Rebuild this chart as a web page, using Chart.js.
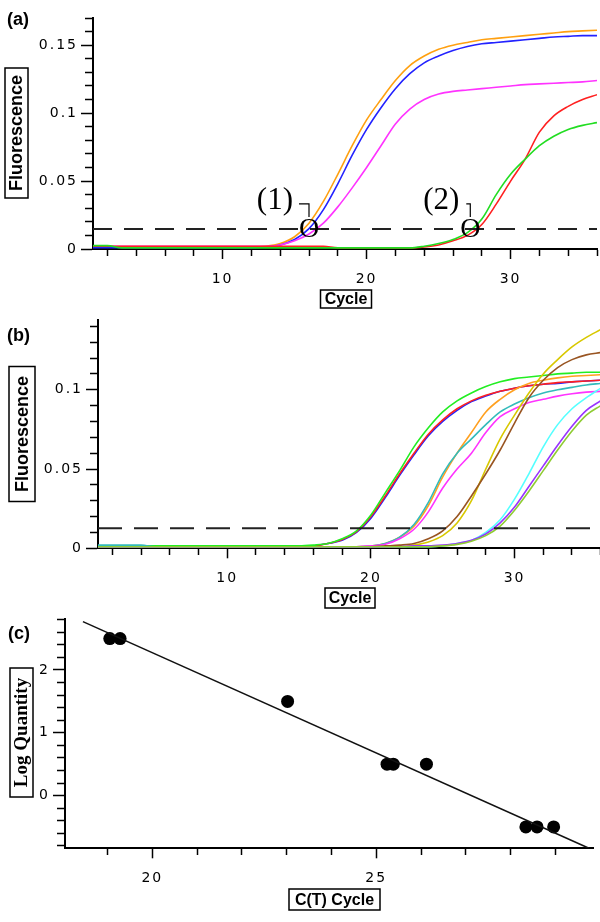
<!DOCTYPE html>
<html>
<head>
<meta charset="utf-8">
<script src="https://cdn.jsdelivr.net/npm/chart.js@4.4.1/dist/chart.umd.min.js"></script>
<style>
  html, body { margin: 0; padding: 0; background: #fff; }
  #wrap { position: relative; width: 600px; height: 922px; }
  canvas { position: absolute; left: 0; }
</style>
</head>
<body>
<div id="wrap">
  <canvas id="chartA" width="600" height="310" style="top:0"></canvas>
  <canvas id="chartB" width="600" height="302" style="top:310px"></canvas>
  <canvas id="chartC" width="600" height="310" style="top:612px"></canvas>
</div>
<script>
// ---- donnees ----
const cycles = [1, 2, 3, 4, 5, 6, 7, 8, 9, 10, 11, 12, 13, 14, 15, 16, 17, 18,
  19, 20, 21, 22, 23, 24, 25, 26, 27, 28, 29, 30, 31, 32, 33, 34, 35, 36];

// (a) courbes d'amplification
const aOrange = [0.0015, 0.0015, 0.0015, 0.0015, 0.0015, 0.0015, 0.0015, 0.0015, 0.0015, 0.0015, 0.0015, 0.0015,
  0.002, 0.004, 0.009, 0.019, 0.035, 0.055, 0.076, 0.095, 0.110, 0.124, 0.135, 0.142,
  0.147, 0.150, 0.152, 0.154, 0.155, 0.156, 0.157, 0.158, 0.159, 0.160, 0.1605, 0.161];
const aBlue = [0.001, 0.001, 0.001, 0.001, 0.001, 0.001, 0.001, 0.001, 0.001, 0.001, 0.001, 0.001,
  0.0015, 0.003, 0.007, 0.015, 0.029, 0.048, 0.069, 0.088, 0.104, 0.118, 0.129, 0.137,
  0.142, 0.146, 0.149, 0.151, 0.152, 0.153, 0.154, 0.155, 0.156, 0.1565, 0.157, 0.157];
const aMagenta = [0.002, 0.002, 0.002, 0.002, 0.002, 0.002, 0.002, 0.002, 0.002, 0.002, 0.002, 0.002,
  0.002, 0.003, 0.006, 0.011, 0.019, 0.031, 0.045, 0.060, 0.076, 0.092, 0.103, 0.110,
  0.114, 0.116, 0.117, 0.118, 0.119, 0.120, 0.121, 0.1215, 0.122, 0.1225, 0.123, 0.124];
const aRed = [0.002, 0.002, 0.002, 0.002, 0.002, 0.002, 0.002, 0.002, 0.002, 0.002, 0.002, 0.002,
  0.002, 0.002, 0.002, 0.002, 0.002, 0.0008, 0.0008, 0.0008, 0.0008, 0.0008, 0.0008, 0.0015,
  0.003, 0.006, 0.010, 0.018, 0.033, 0.050, 0.066, 0.086, 0.098, 0.105, 0.110, 0.1135];
const aGreen = [0.0025, 0.0025, 0.0008, 0.0008, 0.0008, 0.0008, 0.0008, 0.0008, 0.0008, 0.0008, 0.0008, 0.0008,
  0.0008, 0.0008, 0.0008, 0.0008, 0.0008, 0.0008, 0.0008, 0.0008, 0.0008, 0.0008, 0.0008, 0.002,
  0.004, 0.007, 0.012, 0.022, 0.040, 0.055, 0.066, 0.076, 0.083, 0.088, 0.091, 0.093];
const thresholdA = 0.0148;
const crossingCycles = [16, 27.2];
const crossingLabels = ["(1)", "(2)"];

// (b) dilutions
const bGreen = [0.0015, 0.0015, 0.0015, 0.0015, 0.0015, 0.0015, 0.0015, 0.0015, 0.0015, 0.0015, 0.0015, 0.0015,
  0.0015, 0.0015, 0.0015, 0.002, 0.003, 0.006, 0.011, 0.021, 0.035, 0.049, 0.064, 0.076,
  0.086, 0.093, 0.098, 0.102, 0.105, 0.107, 0.108, 0.109, 0.110, 0.1105, 0.111, 0.111];
const bRed = [0.001, 0.001, 0.001, 0.001, 0.001, 0.001, 0.001, 0.001, 0.001, 0.001, 0.001, 0.001,
  0.001, 0.001, 0.001, 0.0015, 0.003, 0.0055, 0.0105, 0.020, 0.033, 0.047, 0.060, 0.072,
  0.081, 0.088, 0.093, 0.0965, 0.099, 0.101, 0.1025, 0.1035, 0.1045, 0.105, 0.1055, 0.106];
const bBlue = [0.001, 0.001, 0.001, 0.001, 0.001, 0.001, 0.001, 0.001, 0.001, 0.001, 0.001, 0.001,
  0.001, 0.001, 0.001, 0.0015, 0.003, 0.005, 0.010, 0.019, 0.032, 0.046, 0.059, 0.071,
  0.080, 0.087, 0.0925, 0.096, 0.099, 0.101, 0.1025, 0.1035, 0.104, 0.105, 0.1055, 0.106];
const bOrange = [0.001, 0.001, 0.001, 0.001, 0.001, 0.001, 0.001, 0.001, 0.001, 0.001, 0.001, 0.001,
  0.001, 0.001, 0.001, 0.001, 0.001, 0.001, 0.001, 0.0015, 0.003, 0.007, 0.014, 0.027,
  0.045, 0.060, 0.073, 0.086, 0.094, 0.100, 0.104, 0.106, 0.1075, 0.1085, 0.109, 0.1095];
const bTeal = [0.002, 0.002, 0.002, 0.002, 0.001, 0.001, 0.001, 0.001, 0.001, 0.001, 0.001, 0.001,
  0.001, 0.001, 0.001, 0.001, 0.001, 0.001, 0.001, 0.0015, 0.003, 0.007, 0.015, 0.029,
  0.047, 0.060, 0.069, 0.078, 0.086, 0.091, 0.095, 0.098, 0.100, 0.1015, 0.103, 0.104];
const bMagenta = [0.001, 0.001, 0.001, 0.001, 0.001, 0.001, 0.001, 0.001, 0.001, 0.001, 0.001, 0.001,
  0.001, 0.001, 0.001, 0.001, 0.001, 0.001, 0.001, 0.0015, 0.0025, 0.006, 0.012, 0.023,
  0.038, 0.050, 0.060, 0.073, 0.083, 0.088, 0.092, 0.094, 0.096, 0.0975, 0.0985, 0.099];
const bYellow = [0.001, 0.001, 0.001, 0.001, 0.001, 0.001, 0.001, 0.001, 0.001, 0.001, 0.001, 0.001,
  0.001, 0.001, 0.001, 0.001, 0.001, 0.001, 0.001, 0.001, 0.001, 0.001, 0.002, 0.004,
  0.008, 0.016, 0.030, 0.050, 0.069, 0.084, 0.098, 0.110, 0.119, 0.127, 0.133, 0.138];
const bBrown = [0.001, 0.001, 0.001, 0.001, 0.001, 0.001, 0.001, 0.001, 0.001, 0.001, 0.001, 0.001,
  0.001, 0.001, 0.001, 0.001, 0.001, 0.001, 0.001, 0.001, 0.0015, 0.002, 0.003, 0.006,
  0.011, 0.020, 0.033, 0.047, 0.062, 0.079, 0.095, 0.106, 0.114, 0.119, 0.122, 0.1235];
const bCyan = [0.001, 0.001, 0.001, 0.001, 0.001, 0.001, 0.001, 0.001, 0.001, 0.001, 0.001, 0.001,
  0.001, 0.001, 0.001, 0.001, 0.001, 0.001, 0.001, 0.001, 0.001, 0.001, 0.001, 0.001,
  0.0015, 0.003, 0.005, 0.010, 0.018, 0.031, 0.047, 0.064, 0.078, 0.088, 0.095, 0.101];
const bPurple = [0.001, 0.001, 0.001, 0.001, 0.001, 0.001, 0.001, 0.001, 0.001, 0.001, 0.001, 0.001,
  0.001, 0.001, 0.001, 0.001, 0.001, 0.001, 0.001, 0.001, 0.001, 0.001, 0.0015, 0.0015,
  0.002, 0.003, 0.005, 0.009, 0.016, 0.026, 0.039, 0.052, 0.065, 0.077, 0.087, 0.093];
const bYellowGreen = [0.001, 0.001, 0.001, 0.001, 0.001, 0.001, 0.001, 0.001, 0.001, 0.001, 0.001, 0.001,
  0.001, 0.001, 0.001, 0.001, 0.001, 0.001, 0.001, 0.001, 0.001, 0.001, 0.001, 0.001,
  0.0015, 0.0025, 0.0045, 0.008, 0.014, 0.024, 0.036, 0.049, 0.062, 0.074, 0.084, 0.090];
const thresholdB = 0.0126;

// (c) courbe standard
const ctCycle = [19.05, 19.28, 23.02, 25.24, 25.38, 26.12, 28.34, 28.59, 28.96];
const logQuantity = [2.5, 2.5, 1.5, 0.5, 0.5, 0.5, -0.5, -0.5, -0.5];
const fitX = [18.45, 29.75];
const fitY = [2.77, -0.84];

// graduations
const xTicksCurve = [2, 4, 6, 8, 10, 12, 14, 16, 18, 20, 22, 24, 26, 28, 30, 32, 34, 36];
const xLabelsCurve = [10, 20, 30];
const yTicksA = [0, 0.01, 0.02, 0.03, 0.04, 0.05, 0.06, 0.07, 0.08, 0.09, 0.1, 0.11, 0.12, 0.13, 0.14, 0.15, 0.16, 0.17];
const yLabelsA = [0, 0.05, 0.1, 0.15];
const yTicksB = [0, 0.01, 0.02, 0.03, 0.04, 0.05, 0.06, 0.07, 0.08, 0.09, 0.1, 0.11, 0.12, 0.13, 0.14];
const yLabelsB = [0, 0.05, 0.1];
const xTicksC = [19, 20, 21, 22, 23, 24, 25, 26, 27, 28, 29];
const xLabelsC = [20, 25];
const yTicksC = [-0.8, -0.6, -0.4, -0.2, 0, 0.2, 0.4, 0.6, 0.8, 1, 1.2, 1.4, 1.6, 1.8, 2, 2.2, 2.4, 2.6, 2.8];
const yLabelsC = [0, 1, 2];

// ---- outils ----
const tickFont = { family: "'DejaVu Sans', sans-serif", size: 14 };
const isIn = (list, v) => list.some(l => Math.abs(l - v) < 1e-9);

function yAxis(min, max, tickList, labelList, width) {
  return {
    type: "linear", position: "left", min: min, max: max,
    afterBuildTicks: s => { s.ticks = tickList.map(v => ({ value: v })); },
    afterFit: s => { s.width = width; s.paddingTop = 0; s.paddingBottom = 0; },
    border: { color: "#000", width: 2 },
    grid: {
      drawOnChartArea: false, color: "#000", tickLength: 12, tickWidth: 1.5,
      tickBorderDash: c => (c.tick && !isIn(labelList, c.tick.value)) ? [0, 4, 40] : []
    },
    ticks: { autoSkip: false, color: "#000", padding: 3, font: tickFont,
      callback: v => isIn(labelList, v) ? String(v) : "" }
  };
}

function xAxis(min, max, tickList, labelList, height) {
  return {
    type: "linear", position: "bottom", min: min, max: max,
    afterBuildTicks: s => { s.ticks = tickList.map(v => ({ value: v })); },
    afterFit: s => { s.height = height; s.paddingLeft = 0; s.paddingRight = 0; },
    border: { color: "#000", width: 2 },
    grid: {
      drawOnChartArea: false, color: "#000", tickLength: 10, tickWidth: 1.5,
      tickBorderDash: c => (c.tick && !isIn(labelList, c.tick.value)) ? [6, 40] : []
    },
    ticks: { autoSkip: false, maxRotation: 0, color: "#000", padding: 12, font: tickFont,
      callback: v => isIn(labelList, v) ? String(v) : "" }
  };
}

function curve(values, color) {
  return {
    data: cycles.map((c, i) => ({ x: c, y: values[i] })),
    borderColor: color, borderWidth: 1.6, pointRadius: 0,
    cubicInterpolationMode: "monotone", fill: false
  };
}

function thresholdLine(value, dash) {
  return {
    data: [{ x: cycles[0], y: value }, { x: cycles[cycles.length - 1], y: value }],
    borderColor: "#222", borderWidth: 2, borderDash: dash, pointRadius: 0, fill: false
  };
}

// titres encadres, lettre du panneau, reperes (1)/(2)
const decorPlugin = {
  id: "decor",
  beforeDraw(chart) {
    chart.ctx.letterSpacing = "2px"; // police des graduations espacee
  },
  afterDraw(chart, args, opts) {
    const ctx = chart.ctx;
    ctx.save();
    ctx.letterSpacing = "0px";
    ctx.fillStyle = "#000";
    ctx.strokeStyle = "#000";

    if (opts.letter) {
      ctx.font = "bold 18px 'Liberation Sans', Arial, sans-serif";
      ctx.textAlign = "left";
      ctx.textBaseline = "middle";
      ctx.fillText(opts.letter.text, opts.letter.x, opts.letter.y);
    }

    (opts.boxes || []).forEach(b => {
      ctx.save();
      ctx.translate(b.x, b.y);
      if (b.vertical) ctx.rotate(-Math.PI / 2);
      const w = b.vertical ? b.h : b.w;
      const h = b.vertical ? b.w : b.h;
      ctx.lineWidth = 1.5;
      ctx.strokeRect(-w / 2, -h / 2, w, h);
      ctx.font = b.font;
      ctx.textAlign = "center";
      ctx.textBaseline = "middle";
      ctx.fillText(b.text, 0, 1);
      ctx.restore();
    });

    const xs = chart.scales.x, ys = chart.scales.y;
    (opts.markers || []).forEach(m => {
      const px = xs.getPixelForValue(m.x);
      const py = ys.getPixelForValue(m.y);
      ctx.font = "28px 'Liberation Serif', serif";
      ctx.textAlign = "center";
      ctx.textBaseline = "middle";
      ctx.fillText("O", px, py + 1);
      ctx.lineWidth = 1.2;
      ctx.beginPath();
      ctx.moveTo(px - m.arm, py - 25);
      ctx.lineTo(px, py - 25);
      ctx.lineTo(px, py - 12);
      ctx.stroke();
      ctx.font = "31px 'Liberation Serif', serif";
      ctx.textAlign = "right";
      ctx.textBaseline = "alphabetic";
      ctx.fillText(m.text, px - m.gap, py - 20);
    });
    ctx.restore();
  }
};
Chart.register(decorPlugin);

const common = {
  responsive: false,
  animation: false,
  events: [],
};

// ---- (a) ----
new Chart(document.getElementById("chartA"), {
  type: "line",
  data: {
    datasets: [
      thresholdLine(thresholdA, [19, 12]),
      curve(aGreen, "#22dd22"),
      curve(aRed, "#ff2020"),
      curve(aMagenta, "#ff33ff"),
      curve(aBlue, "#2222ff"),
      curve(aOrange, "#ffa010")
    ]
  },
  options: {
    ...common,
    layout: { padding: { top: 18, right: 3, bottom: 0, left: 0 } },
    scales: {
      x: xAxis(1, 36, xTicksCurve, xLabelsCurve, 61),
      y: yAxis(0, 0.17, yTicksA, yLabelsA, 93)
    },
    plugins: {
      legend: { display: false },
      tooltip: { enabled: false },
      decor: {
        letter: { text: "(a)", x: 7, y: 20 },
        boxes: [
          { text: "Fluorescence", x: 16.5, y: 133, w: 23, h: 130, vertical: true,
            font: "bold 18px 'Liberation Sans', Arial, sans-serif" },
          { text: "Cycle", x: 346, y: 299, w: 51, h: 18,
            font: "bold 16px 'Liberation Sans', Arial, sans-serif" }
        ],
        markers: crossingCycles.map((c, i) => ({
          x: c, y: thresholdA, text: crossingLabels[i], arm: i === 0 ? 10 : 4, gap: i === 0 ? 16 : 11
        }))
      }
    }
  }
});

// ---- (b) ----
new Chart(document.getElementById("chartB"), {
  type: "line",
  data: {
    datasets: [
      thresholdLine(thresholdB, [24, 12]),
      curve(bYellowGreen, "#8fcc33"),
      curve(bPurple, "#9933ff"),
      curve(bCyan, "#55ffff"),
      curve(bBrown, "#995522"),
      curve(bYellow, "#d8c800"),
      curve(bMagenta, "#ff33ff"),
      curve(bTeal, "#33bbbb"),
      curve(bOrange, "#ffa020"),
      curve(bGreen, "#22ee22"),
      curve(bRed, "#ff2020"),
      curve(bBlue, "#2222ff")
    ]
  },
  options: {
    ...common,
    layout: { padding: { top: 10, right: 0, bottom: 0, left: 0 } },
    scales: {
      x: xAxis(1, 35.95, xTicksCurve, xLabelsCurve, 63.7),
      y: yAxis(0, 0.144, yTicksB, yLabelsB, 98)
    },
    plugins: {
      legend: { display: false },
      tooltip: { enabled: false },
      decor: {
        letter: { text: "(b)", x: 7, y: 26 },
        boxes: [
          { text: "Fluorescence", x: 22, y: 124, w: 26, h: 135, vertical: true,
            font: "bold 18px 'Liberation Sans', Arial, sans-serif" },
          { text: "Cycle", x: 350, y: 288, w: 50, h: 20,
            font: "bold 16px 'Liberation Sans', Arial, sans-serif" }
        ]
      }
    }
  }
});

// ---- (c) ----
new Chart(document.getElementById("chartC"), {
  type: "scatter",
  data: {
    datasets: [
      {
        data: fitX.map((x, i) => ({ x: x, y: fitY[i] })),
        showLine: true, borderColor: "#111", borderWidth: 1.5, pointRadius: 0
      },
      {
        data: ctCycle.map((x, i) => ({ x: x, y: logQuantity[i] })),
        pointRadius: 6.5, pointBackgroundColor: "#000", pointBorderColor: "#000", pointBorderWidth: 0
      }
    ]
  },
  options: {
    ...common,
    layout: { padding: { top: 4.7, right: 5, bottom: 0, left: 0 } },
    scales: {
      x: xAxis(18.05, 29.85, xTicksC, xLabelsC, 73.7),
      y: yAxis(-0.84, 2.82, yTicksC, yLabelsC, 65)
    },
    plugins: {
      legend: { display: false },
      tooltip: { enabled: false },
      decor: {
        letter: { text: "(c)", x: 8, y: 22 },
        boxes: [
          { text: "Log Quantity", x: 21.5, y: 120.5, w: 23, h: 129, vertical: true,
            font: "bold 19px 'Liberation Serif', 'Times New Roman', serif" },
          { text: "C(T) Cycle", x: 334.5, y: 287.5, w: 91, h: 21,
            font: "bold 16px 'Liberation Sans', Arial, sans-serif" }
        ]
      }
    }
  }
});
</script>
</body>
</html>
